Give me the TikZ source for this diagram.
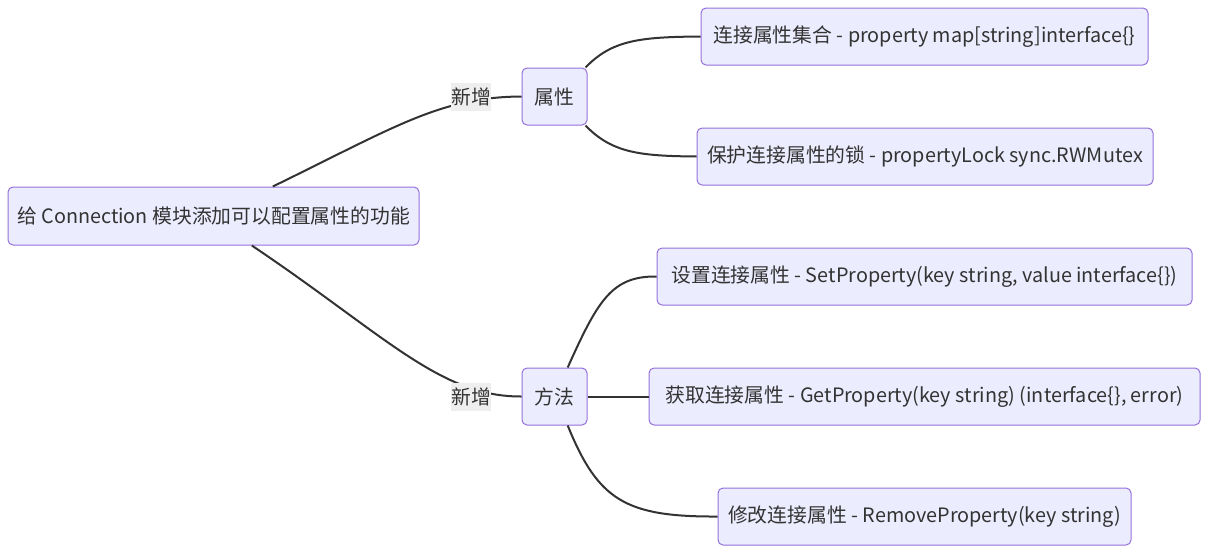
\documentclass[tikz,border=0pt]{standalone}
\usepackage{fontspec}
\setmainfont{Noto Sans CJK SC}
\usetikzlibrary{calc}
\definecolor{boxfill}{HTML}{ECECFF}
\definecolor{boxline}{HTML}{9370DB}
\definecolor{edgecol}{HTML}{333333}
\definecolor{labelbg}{HTML}{EEEEEE}
\begin{document}
\begin{tikzpicture}[x=1pt,y=-1pt,
  box/.style={draw=boxline,fill=boxfill,line width=1pt,rounded corners=5pt,
    inner sep=0pt,minimum height=57pt,text=edgecol,
    font=\fontsize{19.8}{22}\selectfont},
  edgelabel/.style={fill=labelbg,inner sep=0pt,minimum width=40pt,minimum height=28pt,
    text=edgecol,font=\fontsize{19.8}{22}\selectfont},
  link/.style={draw=edgecol,line width=2pt}]
\useasboundingbox (0,0) rectangle (1208,549);

% nodes
\node[box,minimum width=411pt,minimum height=58pt] (root) at (213.5,216) {给 Connection 模块添加可以配置属性的功能};
\node[box,minimum width=65pt] (attr) at (554.5,96.5) {属性};
\node[box,minimum width=65pt] (meth) at (554.5,396.5) {方法};
\node[box,minimum width=447pt] (l1) at (924.5,36.5) {连接属性集合 - property map[string]interface\{\}};
\node[box,minimum width=456pt] (l2) at (925,156.5) {保护连接属性的锁 - propertyLock sync.RWMutex};
\node[box,minimum width=535pt] (l3) at (924.5,276.5) {设置连接属性 - SetProperty(key string, value interface\{\})};
\node[box,minimum width=551pt] (l4) at (924.5,396.5) {获取连接属性 - GetProperty(key string) (interface\{\}, error)};
\node[box,minimum width=413pt] (l5) at (924.5,516.5) {修改连接属性 - RemoveProperty(key string)};

% attachment points on the box borders
\coordinate (rtop) at ($(root.north west)!0.644!(root.north east)$);
\coordinate (rbot) at ($(root.south west)!0.593!(root.south east)$);
\coordinate (attrNE) at ($(attr.north east)+(-2,0)$);
\coordinate (attrSE) at ($(attr.south east)+(-2,0)$);
\coordinate (methN) at ($(meth.north west)!0.7!(meth.north east)$);
\coordinate (methS) at ($(meth.south west)!0.7!(meth.south east)$);

% connectors
\draw[link] (rtop) .. controls (395,127) and (440,97) .. (attr.west);
\draw[link] (rbot) .. controls (385,335) and (440,397) .. (meth.west);
\draw[link] (attrNE) .. controls (612,40) and (640,37) .. (l1.west);
\draw[link] (attrSE) .. controls (612,153) and (640,156) .. (l2.west);
\draw[link] (methN) .. controls (598,300) and (612,276) .. (l3.west);
\draw[link] (meth.east) -- (l4.west);
\draw[link] (methS) .. controls (598,500) and (625,517) .. (l5.west);

% edge labels
\node[edgelabel] (e1) at (471,97) {新增};
\node[edgelabel] (e2) at (471,397) {新增};
\end{tikzpicture}
\end{document}
